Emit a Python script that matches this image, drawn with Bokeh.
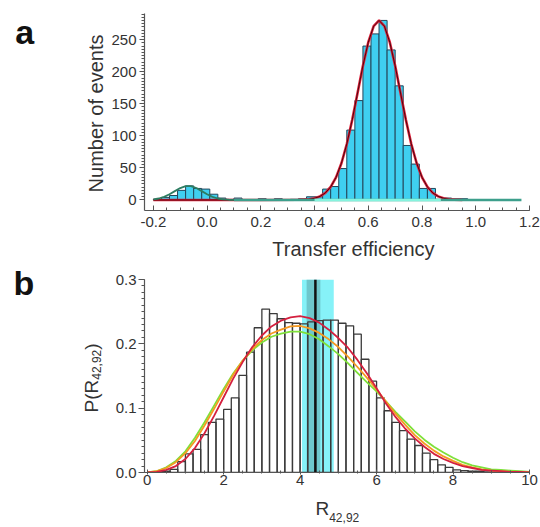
import numpy as np
from bokeh.plotting import figure
from bokeh.models import Range1d, FixedTicker, Label
from bokeh.layouts import column
from bokeh.embed import file_html
from bokeh.resources import INLINE

# ---------------- Panel a data ----------------
a_bin_start = -0.20
a_bin_width = 0.03
a_counts = [1, 4, 7, 15, 22, 18, 17, 9, 3, 1,
            3, 0, 0, 2, 0, 2, 0, 1, 2, 5,
            5, 17, 21, 49, 109, 155, 240, 259, 280, 234,
            178, 85, 56, 18, 18, 1, 3, 2, 2]
a_xticks = [-0.2, 0.0, 0.2, 0.4, 0.6, 0.8, 1.0, 1.2]
a_xtick_labels = ["-0.2", "0.0", "0.2", "0.4", "0.6", "0.8", "1.0", "1.2"]
a_yticks = [0, 50, 100, 150, 200, 250]
a_ytick_labels = ["0", "50", "100", "150", "200", "250"]
# main (high efficiency) fit curve
a_fit_main_x = [-0.20, 0.00, 0.20, 0.34, 0.38, 0.40, 0.42, 0.44, 0.46, 0.48, 0.50,
                0.52, 0.54, 0.56, 0.58, 0.60, 0.62, 0.64, 0.66, 0.68, 0.70,
                0.72, 0.74, 0.76, 0.78, 0.80, 0.82, 0.84, 0.86, 0.88, 0.90, 0.92, 0.95]
a_fit_main_y = [0, 0, 0, 0.3, 1.2, 2.7, 5.6, 11.0, 20.4, 35.3, 57.3,
                87.3, 124.7, 166.9, 209.3, 246.0, 271.1, 280.0, 271.1, 246.0, 209.3,
                166.9, 124.7, 87.3, 57.3, 35.3, 20.4, 11.0, 5.6, 2.7, 1.2, 0.5, 0]
# low efficiency (donor only) fit curve
a_fit_low_x = [-0.20, -0.18, -0.16, -0.14, -0.12, -0.10, -0.08, -0.06, -0.04,
               -0.02, 0.00, 0.02, 0.04, 0.06, 0.08, 0.10]
a_fit_low_y = [1.0, 2.3, 4.9, 8.9, 13.8, 18.6, 21.6, 21.6, 18.6,
               13.8, 8.9, 4.9, 2.3, 1.0, 0.4, 0.1]
a_base_x = [0.10, 1.17]
a_base_bright_x = [0.40, 0.87]

# ---------------- Panel b data ----------------
b_bin_start = 0.0
b_bin_width = 0.2
b_prob = [0.0, 0.001, 0.002, 0.005, 0.017, 0.029, 0.036, 0.059, 0.078, 0.083,
          0.098, 0.116, 0.151, 0.187, 0.225, 0.254, 0.247, 0.239, 0.233, 0.232,
          0.231, 0.234, 0.236, 0.237, 0.237, 0.232, 0.228, 0.215, 0.176, 0.142,
          0.116, 0.096, 0.078, 0.065, 0.052, 0.042, 0.030, 0.020, 0.012, 0.008,
          0.004, 0.003, 0.002, 0.002, 0.001, 0.001]
b_curve_x = [0.0, 0.25, 0.5, 0.75, 1.0, 1.25, 1.5, 1.75, 2.0, 2.25, 2.5, 2.75,
             3.0, 3.25, 3.5, 3.75, 4.0, 4.25, 4.5, 4.75, 5.0, 5.25, 5.5, 5.75,
             6.0, 6.25, 6.5, 6.75, 7.0, 7.25, 7.5, 7.75, 8.0, 8.25, 8.5, 8.75,
             9.0, 9.25, 9.5, 9.75, 10.0]
b_red = [0.000, 0.001, 0.004, 0.010, 0.021, 0.038, 0.061, 0.088, 0.117, 0.146,
         0.172, 0.195, 0.213, 0.227, 0.236, 0.241, 0.243, 0.240, 0.233, 0.222,
         0.209, 0.194, 0.175, 0.154, 0.131, 0.107, 0.086, 0.068, 0.053, 0.040,
         0.029, 0.021, 0.015, 0.010, 0.007, 0.004, 0.003, 0.002, 0.001, 0.001, 0.000]
b_orange = [0.000, 0.002, 0.007, 0.016, 0.030, 0.049, 0.073, 0.099, 0.126, 0.152,
            0.174, 0.192, 0.206, 0.216, 0.222, 0.227, 0.228, 0.224, 0.217, 0.207,
            0.195, 0.180, 0.164, 0.147, 0.129, 0.110, 0.091, 0.074, 0.058, 0.045,
            0.034, 0.025, 0.018, 0.012, 0.008, 0.005, 0.003, 0.002, 0.001, 0.001, 0.000]
b_green = [0.000, 0.002, 0.008, 0.018, 0.033, 0.054, 0.078, 0.104, 0.130, 0.154,
           0.174, 0.190, 0.202, 0.211, 0.216, 0.219, 0.219, 0.215, 0.207, 0.196,
           0.184, 0.170, 0.155, 0.140, 0.126, 0.110, 0.094, 0.079, 0.064, 0.051,
           0.040, 0.031, 0.023, 0.016, 0.011, 0.008, 0.005, 0.004, 0.003, 0.002, 0.001]
b_band_outer = [4.05, 4.88]
b_band_inner = [4.17, 4.53]
b_mean_line = 4.40
b_xticks = [0, 2, 4, 6, 8, 10]
b_xtick_labels = ["0", "2", "4", "6", "8", "10"]
b_yticks = [0.0, 0.1, 0.2, 0.3]
b_ytick_labels = ["0.0", "0.1", "0.2", "0.3"]

SANS = "Liberation Sans"
AXC = "#555555"
TXC = "#333333"


def style_axes(p, tick_font_size):
    p.xgrid.visible = False
    p.ygrid.visible = False
    p.outline_line_color = None
    for ax in (p.xaxis[0], p.yaxis[0]):
        ax.axis_line_color = AXC
        ax.axis_line_width = 1.2
        ax.major_tick_line_color = AXC
        ax.minor_tick_line_color = AXC
        ax.major_label_text_font = SANS
        ax.major_label_text_font_size = tick_font_size
        ax.major_label_text_color = TXC


def add_text(p, side, **kw):
    kw.setdefault("text_font", SANS)
    kw.setdefault("text_color", TXC)
    p.add_layout(Label(**kw), side)


# ---------------- Panel a ----------------
pa = figure(width=540, height=262, output_backend="svg", toolbar_location=None,
            x_range=Range1d(-0.233, 1.2), y_range=Range1d(-16.4, 290.8),
            min_border_left=143, min_border_right=10, min_border_top=13, min_border_bottom=52)
style_axes(pa, "15px")
pa.background_fill_color = "white"
pa.border_fill_color = "white"

a_left = [a_bin_start + i * a_bin_width for i in range(len(a_counts))]
a_right = [l + a_bin_width for l in a_left]
a_l2 = [l for l, c in zip(a_left, a_counts) if c > 0]
a_r2 = [r for r, c in zip(a_right, a_counts) if c > 0]
a_c2 = [c for c in a_counts if c > 0]
pa.quad(left=a_l2, right=a_r2, bottom=0, top=a_c2, fill_color="#3fcff0",
        line_color="#24465a", line_width=1)
pa.line(a_fit_main_x, a_fit_main_y, line_color="#e0203a", line_width=2.6)
pa.line(a_fit_main_x, a_fit_main_y, line_color="#4a0810", line_width=1.0)
pa.line(a_fit_low_x, a_fit_low_y, line_color="#2d7d62", line_width=1.8)
pa.line(a_base_x, [0, 0], line_color="#3d9f8c", line_width=2.4)
pa.line(a_base_bright_x, [0, 0], line_color="#86f3de", line_width=2.4)

pa.xaxis.ticker = FixedTicker(ticks=a_xticks,
                              minor_ticks=[round(-0.2 + 0.05 * i, 3) for i in range(29)])
pa.xaxis.major_label_overrides = {t: s for t, s in zip(a_xticks, a_xtick_labels)}
pa.xaxis.major_tick_in = 5
pa.xaxis.major_tick_out = 0
pa.xaxis.minor_tick_in = 3
pa.xaxis.minor_tick_out = 0
pa.xaxis.major_label_standoff = 6
pa.yaxis.ticker = FixedTicker(ticks=a_yticks, minor_ticks=list(range(0, 291, 5)))
pa.yaxis.major_label_overrides = {t: s for t, s in zip(a_yticks, a_ytick_labels)}
pa.yaxis.major_tick_in = 0
pa.yaxis.major_tick_out = 5
pa.yaxis.minor_tick_in = 0
pa.yaxis.minor_tick_out = 3
pa.yaxis.major_label_standoff = 3

add_text(pa, "left", x=-0.7145, y=262.7, text="a", text_font_style="bold",
         text_font_size="34px", text_color="#111111", text_baseline="alphabetic",
         text_align="left")
add_text(pa, "left", x=-0.4145, y=134.9, text="Number of events",
         text_font_size="20px", angle=np.pi / 2, text_align="center", text_baseline="middle")
add_text(pa, "below", x=0.5448, y=-75.7, text="Transfer efficiency",
         text_font_size="20px", text_align="center", text_baseline="alphabetic")

# ---------------- Panel b ----------------
pb = figure(width=540, height=265, output_backend="svg", toolbar_location=None,
            x_range=Range1d(-0.07, 10.0), y_range=Range1d(0.0, 0.3),
            min_border_left=144, min_border_right=11, min_border_top=17, min_border_bottom=55)
style_axes(pb, "15px")
pb.background_fill_color = "white"
pb.border_fill_color = "white"

pb.quad(left=[b_band_outer[0]], right=[b_band_outer[1]], bottom=0, top=0.3,
        fill_color="#86f2f8", line_color=None)
pb.quad(left=[b_band_inner[0]], right=[b_band_inner[1]], bottom=0, top=0.3,
        fill_color="#66b8be", fill_alpha=0.75, line_color=None)

b_left = [b_bin_start + i * b_bin_width for i in range(len(b_prob))]
b_right = [l + b_bin_width for l in b_left]
pb.quad(left=b_left, right=b_right, bottom=0, top=b_prob, fill_color=None,
        line_color="#3a3a3a", line_width=1.3)
pb.line([b_mean_line, b_mean_line], [0, 0.3], line_color="#111111", line_width=2.5)

pb.line(b_curve_x, b_green, line_color="#7fe03a", line_width=1.8)
pb.line(b_curve_x, b_orange, line_color="#f59a22", line_width=1.8)
pb.line(b_curve_x, b_red, line_color="#d4203f", line_width=1.8)

pb.xaxis.ticker = FixedTicker(ticks=b_xticks, minor_ticks=[0.5 * i for i in range(21)])
pb.xaxis.major_label_overrides = {t: s for t, s in zip(b_xticks, b_xtick_labels)}
pb.xaxis.major_tick_in = 3
pb.xaxis.major_tick_out = 2
pb.xaxis.minor_tick_in = 2
pb.xaxis.minor_tick_out = 1
pb.xaxis.major_label_standoff = 0
pb.yaxis.ticker = FixedTicker(ticks=b_yticks, minor_ticks=[round(0.01 * i, 3) for i in range(31)])
pb.yaxis.major_label_overrides = {t: s for t, s in zip(b_yticks, b_ytick_labels)}
pb.yaxis.major_tick_in = 0
pb.yaxis.major_tick_out = 6
pb.yaxis.minor_tick_in = 0
pb.yaxis.minor_tick_out = 3
pb.yaxis.major_label_standoff = 2

add_text(pb, "left", x=-3.497, y=0.294, text="b", text_font_style="bold",
         text_font_size="34px", text_color="#111111", text_baseline="alphabetic",
         text_align="left")
# x axis label R_{42,92}
add_text(pb, "below", x=4.403, y=-0.0566, text="R", text_font_size="19px",
         text_baseline="alphabetic", text_align="left")
add_text(pb, "below", x=4.761, y=-0.0697, text="42,92", text_font_size="12px",
         text_baseline="alphabetic", text_align="left")
# y axis label P(R_{42,92})
add_text(pb, "left", x=-1.446, y=0.0933, text="P(R", text_font_size="19px",
         angle=np.pi / 2, text_baseline="alphabetic", text_align="left")
add_text(pb, "left", x=-1.331, y=0.1442, text="42,92", text_font_size="12px",
         angle=np.pi / 2, text_baseline="alphabetic", text_align="left")
add_text(pb, "left", x=-1.446, y=0.1908, text=")", text_font_size="19px",
         angle=np.pi / 2, text_baseline="alphabetic", text_align="left")

layout = column(pa, pb)
open("out.html", "w").write(file_html(layout, INLINE))
